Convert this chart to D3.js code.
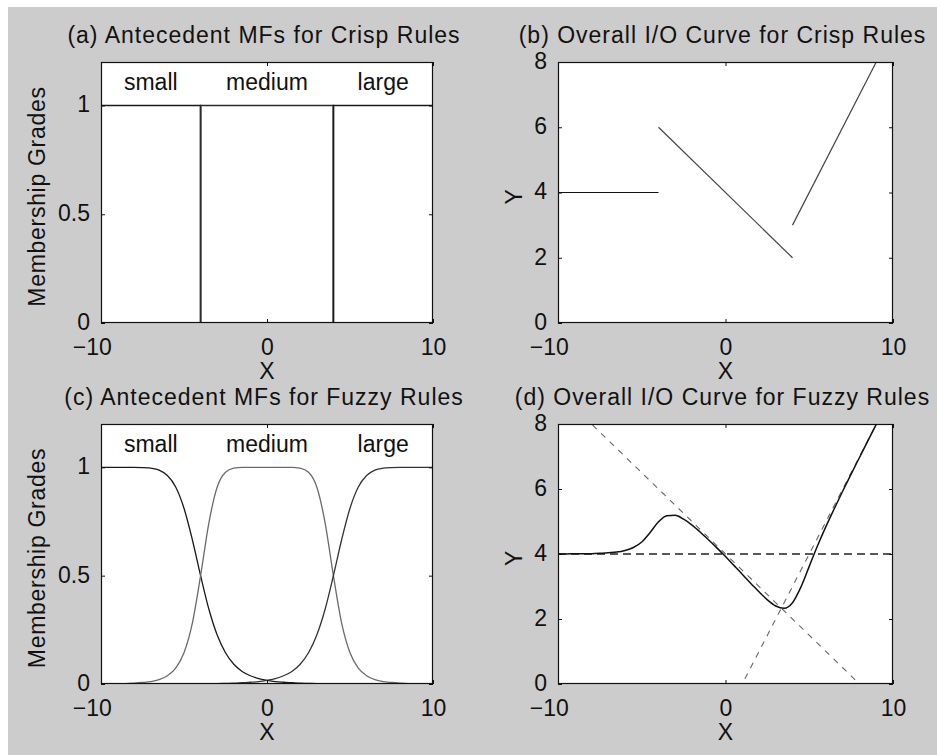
<!DOCTYPE html>
<html>
<head>
<meta charset="utf-8">
<script src="https://cdn.jsdelivr.net/npm/d3@7"></script>
<style>
  html, body { margin: 0; padding: 0; background: #ffffff; }
  svg { display: block; }
  text { font-family: "Liberation Sans", Arial, Helvetica, sans-serif; fill: #111; }
</style>
</head>
<body>
<div id="chart"></div>
<script>
// ---- data ----
const xTicks = [-10, 0, 10];
const mfTicks = [0, 0.5, 1];
const ioTicks = [0, 2, 4, 6, 8];

const mfNames = ["small", "medium", "large"];
const mfNameX = [-7, 0, 7];
const mfNameY = 1.07;

// (a) crisp membership functions
const crispSmallX = [-10, -4, -4, 10];
const crispSmallY = [1, 1, 0, 0];
const crispMediumX = [-10, -4, -4, 4, 4, 10];
const crispMediumY = [0, 0, 1, 1, 0, 0];
const crispLargeX = [-10, 4, 4, 10];
const crispLargeY = [0, 0, 1, 1];

// (b) crisp input/output segments
const crispOutX = [[-10, -4], [-4, 4], [4, 9]];
const crispOutY = [[4, 4], [6, 2], [3, 8]];

// (c) fuzzy membership functions, sampled every 0.5
const fuzzyX = [-10, -9.5, -9, -8.5, -8, -7.5, -7, -6.5, -6, -5.5, -5, -4.5, -4, -3.5, -3, -2.5, -2, -1.5, -1, -0.5,
  0, 0.5, 1, 1.5, 2, 2.5, 3, 3.5, 4, 4.5, 5, 5.5, 6, 6.5, 7, 7.5, 8, 8.5, 9, 9.5, 10];
const fuzzySmall = [1, 1, 1, 1, 1, 0.999, 0.996, 0.987, 0.962, 0.909, 0.811, 0.667, 0.5, 0.345, 0.226, 0.144, 0.091, 0.058, 0.038, 0.025,
  0.017, 0.011, 0.008, 0.006, 0.004, 0.003, 0.002, 0.002, 0.001, 0.001, 0.001, 0.001, 0, 0, 0, 0, 0, 0, 0, 0, 0];
const fuzzyMedium = [0.001, 0.001, 0.002, 0.002, 0.004, 0.007, 0.011, 0.02, 0.038, 0.073, 0.144, 0.28, 0.5, 0.744, 0.909, 0.977, 0.996, 1, 1, 1,
  1, 1, 1, 1, 0.996, 0.977, 0.909, 0.744, 0.5, 0.28, 0.144, 0.073, 0.038, 0.02, 0.011, 0.007, 0.004, 0.002, 0.002, 0.001, 0.001];
const fuzzyLarge = [0, 0, 0, 0, 0, 0, 0, 0, 0, 0.001, 0.001, 0.001, 0.001, 0.002, 0.002, 0.003, 0.004, 0.006, 0.008, 0.011,
  0.017, 0.025, 0.038, 0.058, 0.091, 0.144, 0.226, 0.345, 0.5, 0.667, 0.811, 0.909, 0.962, 0.987, 0.996, 0.999, 1, 1, 1, 1, 1];

// (d) fuzzy input/output curve and the three rule consequents
const fuzzyOut = [4.0, 4.0, 4.01, 4.01, 4.01, 4.02, 4.04, 4.06, 4.11, 4.2, 4.37, 4.66, 4.99, 5.18, 5.19, 5.07, 4.89, 4.67, 4.43, 4.18,
  3.92, 3.65, 3.38, 3.1, 2.84, 2.59, 2.4, 2.33, 2.5, 2.98, 3.62, 4.26, 4.85, 5.4, 5.94, 6.46, 6.97, 7.48, 7.99, 8.49, 9.0];
const ruleX = [[-10, 10], [-10, 10], [-10, 10]];
const ruleY = [[4, 4], [9, -1], [-11, 9]];

// ---- layout ----
const W = 937, H = 755;
const FONT = 23;

const svg = d3.select("#chart").append("svg")
  .attr("width", W)
  .attr("height", H);

svg.append("rect")
  .attr("x", 8).attr("y", 7)
  .attr("width", W - 8).attr("height", H - 7)
  .attr("fill", "#cccccc");

function tickFmt(d) {
  return d < 0 ? "\u2212" + Math.abs(d) : String(d);
}

function makePanel(id, left, top, right, bottom, yMax, yTicks, title, yLabel, yLabelGap) {
  const w = right - left, h = bottom - top;
  const g = svg.append("g").attr("transform", `translate(${left},${top})`);

  const x = d3.scaleLinear().domain([-10, 10]).range([0, w]);
  const y = d3.scaleLinear().domain([0, yMax]).range([h, 0]);

  g.append("rect")
    .attr("width", w).attr("height", h)
    .attr("fill", "#ffffff");

  g.append("clipPath").attr("id", "clip-" + id)
    .append("rect").attr("width", w).attr("height", h);

  const plot = g.append("g").attr("clip-path", `url(#clip-${id})`);

  const axes = [
    g.append("g").attr("transform", `translate(0,${h})`)
      .call(d3.axisBottom(x).tickValues(xTicks).tickSizeInner(-4).tickSizeOuter(0).tickPadding(16).tickFormat(tickFmt)),
    g.append("g")
      .call(d3.axisTop(x).tickValues(xTicks).tickSizeInner(-4).tickSizeOuter(0).tickFormat("")),
    g.append("g")
      .call(d3.axisLeft(y).tickValues(yTicks).tickSizeInner(-4).tickSizeOuter(0).tickPadding(11).tickFormat(tickFmt)),
    g.append("g").attr("transform", `translate(${w},0)`)
      .call(d3.axisRight(y).tickValues(yTicks).tickSizeInner(-4).tickSizeOuter(0).tickFormat(""))
  ];
  axes.forEach(a => {
    a.attr("font-size", FONT).attr("font-family", null).style("color", "#111");
    a.select(".domain").remove();
    a.selectAll(".tick line").attr("stroke", "#111");
  });
  // nudge negative labels like the original
  axes[0].selectAll(".tick text").filter(d => d < 0).attr("dx", "-0.4em");
  axes[2].selectAll(".tick text").attr("dy", "0.28em");

  g.append("rect")
    .attr("x", 0.5).attr("y", 0.5)
    .attr("width", w - 1).attr("height", h - 1)
    .attr("fill", "none")
    .attr("stroke", "#111")
    .attr("stroke-width", 1.2);

  g.append("text")
    .attr("x", w / 2 - 3).attr("y", -19)
    .attr("text-anchor", "middle")
    .attr("font-size", FONT)
    .attr("letter-spacing", "1px")
    .text(title);

  g.append("text")
    .attr("x", w / 2).attr("y", h + 56)
    .attr("text-anchor", "middle")
    .attr("font-size", FONT)
    .text("X");

  g.append("text")
    .attr("transform", `translate(${-yLabelGap},${h / 2 + 4}) rotate(-90)`)
    .attr("text-anchor", "middle")
    .attr("font-size", FONT)
    .attr("letter-spacing", "0.7px")
    .text(yLabel);

  return { g, plot, x, y };
}

function linePath(p, curve) {
  return d3.line()
    .x(d => p.x(d[0]))
    .y(d => p.y(d[1]))
    .curve(curve || d3.curveLinear);
}

function zip(xs, ys) {
  return xs.map((v, i) => [v, ys[i]]);
}

function addNames(p) {
  p.g.selectAll("text.mfname")
    .data(mfNames)
    .join("text")
    .attr("class", "mfname")
    .attr("x", (d, i) => p.x(mfNameX[i]))
    .attr("y", p.y(mfNameY))
    .attr("text-anchor", "middle")
    .attr("font-size", FONT)
    .text(d => d);
}

// (a)
const pa = makePanel("a", 101, 62, 433, 323, 1.2, mfTicks,
  "(a) Antecedent MFs for Crisp Rules", "Membership Grades", 56);
[[crispSmallX, crispSmallY, "#1a1a1a"], [crispMediumX, crispMediumY, "#2a2a2a"], [crispLargeX, crispLargeY, "#1a1a1a"]]
  .forEach(([xs, ys, c]) => {
    pa.plot.append("path")
      .attr("d", linePath(pa)(zip(xs, ys)))
      .attr("fill", "none")
      .attr("stroke", c)
      .attr("stroke-width", 1.6);
  });
addNames(pa);

// (b)
const pb = makePanel("b", 558, 62, 893, 323, 8, ioTicks,
  "(b) Overall I/O Curve for Crisp Rules", "Y", 36);
pb.plot.selectAll("path.seg")
  .data(crispOutX.map((xs, i) => zip(xs, crispOutY[i])))
  .join("path")
  .attr("class", "seg")
  .attr("d", linePath(pb))
  .attr("fill", "none")
  .attr("stroke", (d, i) => i === 0 ? "#111" : "#444")
  .attr("stroke-width", 1.2);

// (c)
const pc = makePanel("c", 101, 424, 433, 684, 1.2, mfTicks,
  "(c) Antecedent MFs for Fuzzy Rules", "Membership Grades", 56);
[[fuzzySmall, "#1a1a1a"], [fuzzyMedium, "#6a6a6a"], [fuzzyLarge, "#333333"]]
  .forEach(([ys, c]) => {
    pc.plot.append("path")
      .attr("d", linePath(pc, d3.curveMonotoneX)(zip(fuzzyX, ys)))
      .attr("fill", "none")
      .attr("stroke", c)
      .attr("stroke-width", 1.3);
  });
addNames(pc);

// (d)
const pd = makePanel("d", 558, 424, 893, 684, 8, ioTicks,
  "(d) Overall I/O Curve for Fuzzy Rules", "Y", 36);
pd.plot.selectAll("path.rule")
  .data(ruleX.map((xs, i) => zip(xs, ruleY[i])))
  .join("path")
  .attr("class", "rule")
  .attr("d", linePath(pd))
  .attr("fill", "none")
  .attr("stroke", (d, i) => i === 0 ? "#222" : "#666")
  .attr("stroke-width", (d, i) => i === 0 ? 1.4 : 1.1)
  .attr("stroke-dasharray", (d, i) => i === 0 ? "8,5" : "6,6");
pd.plot.append("path")
  .attr("d", linePath(pd, d3.curveMonotoneX)(zip(fuzzyX, fuzzyOut)))
  .attr("fill", "none")
  .attr("stroke", "#111")
  .attr("stroke-width", 1.5);
</script>
</body>
</html>
